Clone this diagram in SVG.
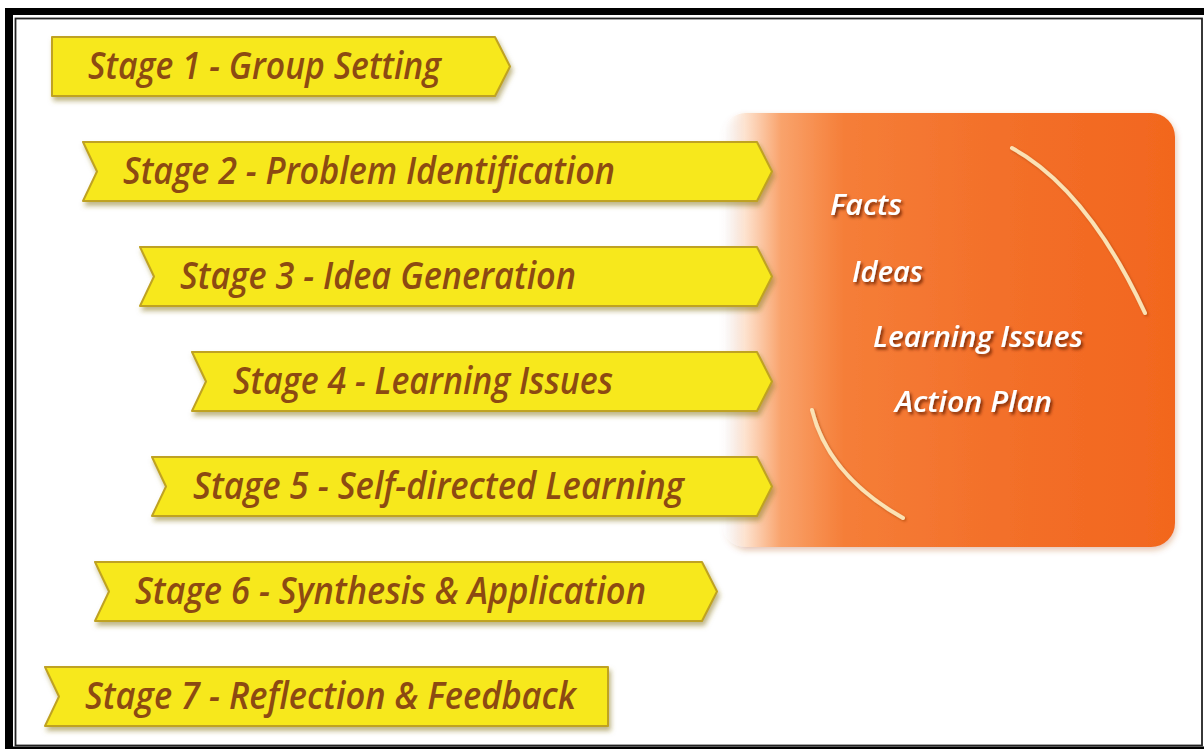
<svg xmlns="http://www.w3.org/2000/svg" width="1204" height="749" viewBox="0 0 1204 749">
  <defs>
    <linearGradient id="panelGrad" x1="0" y1="0" x2="1" y2="0">
      <stop offset="0" stop-color="#ffffff" stop-opacity="0"/>
      <stop offset="0.05" stop-color="#fde3d0"/>
      <stop offset="0.13" stop-color="#f9a36c"/>
      <stop offset="0.27" stop-color="#f57e38"/>
      <stop offset="0.6" stop-color="#f3702a"/>
      <stop offset="1" stop-color="#f2661e"/>
    </linearGradient>
    <filter id="bannerShadow" x="-5%" y="-20%" width="110%" height="160%">
      <feDropShadow dx="2" dy="4" stdDeviation="2.5" flood-color="#8a7a20" flood-opacity="0.55"/>
    </filter>
    <filter id="panelShadow" x="-5%" y="-5%" width="110%" height="110%">
      <feDropShadow dx="1" dy="3" stdDeviation="3" flood-color="#b05020" flood-opacity="0.35"/>
    </filter>
    <filter id="textShadow" x="-10%" y="-30%" width="120%" height="170%">
      <feDropShadow dx="2" dy="2.5" stdDeviation="1.6" flood-color="#6a2000" flood-opacity="0.85"/>
    </filter>
    <filter id="arcShadow" x="-20%" y="-20%" width="140%" height="140%">
      <feDropShadow dx="1.5" dy="1.5" stdDeviation="1" flood-color="#a03a00" flood-opacity="0.6"/>
    </filter>
  </defs>
  <style>
    .banner { fill: #f7e81a; stroke: #bfa222; stroke-width: 2; stroke-linejoin: round; filter: url(#bannerShadow); }
    .stage { font-family: "Open Sans", "Liberation Sans", sans-serif; font-style: italic; font-weight: 600; font-size: 37px; fill: #8c4a12; }
    .ptext { font-family: "Open Sans", "Liberation Sans", sans-serif; font-style: italic; font-weight: 600; font-size: 28px; fill: #ffffff; filter: url(#textShadow); }
    .arc { fill: none; stroke: #fbe2b4; stroke-width: 4; stroke-linecap: round; filter: url(#arcShadow); }
  </style>

  <rect x="0" y="0" width="1204" height="749" fill="#ffffff"/>

  <!-- frame -->
  <g id="frame">
    <rect x="5" y="8" width="8" height="741" fill="#000"/>
    <rect x="5" y="8" width="1199" height="7" fill="#000"/>
    <rect x="5" y="746.5" width="1199" height="2.5" fill="#000"/>
    <rect x="15.5" y="18.5" width="1186.5" height="727" fill="none" stroke="#222" stroke-width="1.8"/>
  </g>

  <!-- orange panel -->
  <g id="panel">
    <rect x="722" y="113" width="453" height="434" rx="24" ry="24" fill="url(#panelGrad)" filter="url(#panelShadow)"/>
    <path class="arc" d="M1012,148 Q1087.5,189.5 1145,313"/>
    <path class="arc" d="M812,410 Q828.5,476 903,518"/>
    <text class="ptext" x="830" y="215" textLength="72" lengthAdjust="spacingAndGlyphs">Facts</text>
    <text class="ptext" x="852" y="282" textLength="71" lengthAdjust="spacingAndGlyphs">Ideas</text>
    <text class="ptext" x="873" y="347" textLength="210" lengthAdjust="spacingAndGlyphs">Learning Issues</text>
    <text class="ptext" x="895" y="412" textLength="157" lengthAdjust="spacingAndGlyphs">Action Plan</text>
  </g>

  <!-- stages -->
  <g id="stage1">
    <polygon class="banner" points="52,37 495,37 510,66.5 495,96 52,96"/>
    <text class="stage" x="88" y="79" textLength="353" lengthAdjust="spacingAndGlyphs">Stage 1 - Group Setting</text>
  </g>
  <g id="stage2">
    <polygon class="banner" points="83,142 757,142 772,171.5 757,201 83,201 97,171.5"/>
    <text class="stage" x="123" y="184" textLength="492" lengthAdjust="spacingAndGlyphs">Stage 2 - Problem Identification</text>
  </g>
  <g id="stage3">
    <polygon class="banner" points="140,247 757,247 772,276.5 757,306 140,306 154,276.5"/>
    <text class="stage" x="180" y="289" textLength="396" lengthAdjust="spacingAndGlyphs">Stage 3 - Idea Generation</text>
  </g>
  <g id="stage4">
    <polygon class="banner" points="192,352 757,352 772,381.5 757,411 192,411 206,381.5"/>
    <text class="stage" x="233" y="394" textLength="380" lengthAdjust="spacingAndGlyphs">Stage 4 - Learning Issues</text>
  </g>
  <g id="stage5">
    <polygon class="banner" points="152,457 757,457 772,486.5 757,516 152,516 166,486.5"/>
    <text class="stage" x="193" y="499" textLength="491" lengthAdjust="spacingAndGlyphs">Stage 5 - Self-directed Learning</text>
  </g>
  <g id="stage6">
    <polygon class="banner" points="95,562 702,562 717,591.5 702,621 95,621 109,591.5"/>
    <text class="stage" x="135" y="604" textLength="511" lengthAdjust="spacingAndGlyphs">Stage 6 - Synthesis &amp; Application</text>
  </g>
  <g id="stage7">
    <polygon class="banner" points="45,667 608,667 608,726 45,726 59,696.5"/>
    <text class="stage" x="85" y="709" textLength="491" lengthAdjust="spacingAndGlyphs">Stage 7 - Reflection &amp; Feedback</text>
  </g>
</svg>
